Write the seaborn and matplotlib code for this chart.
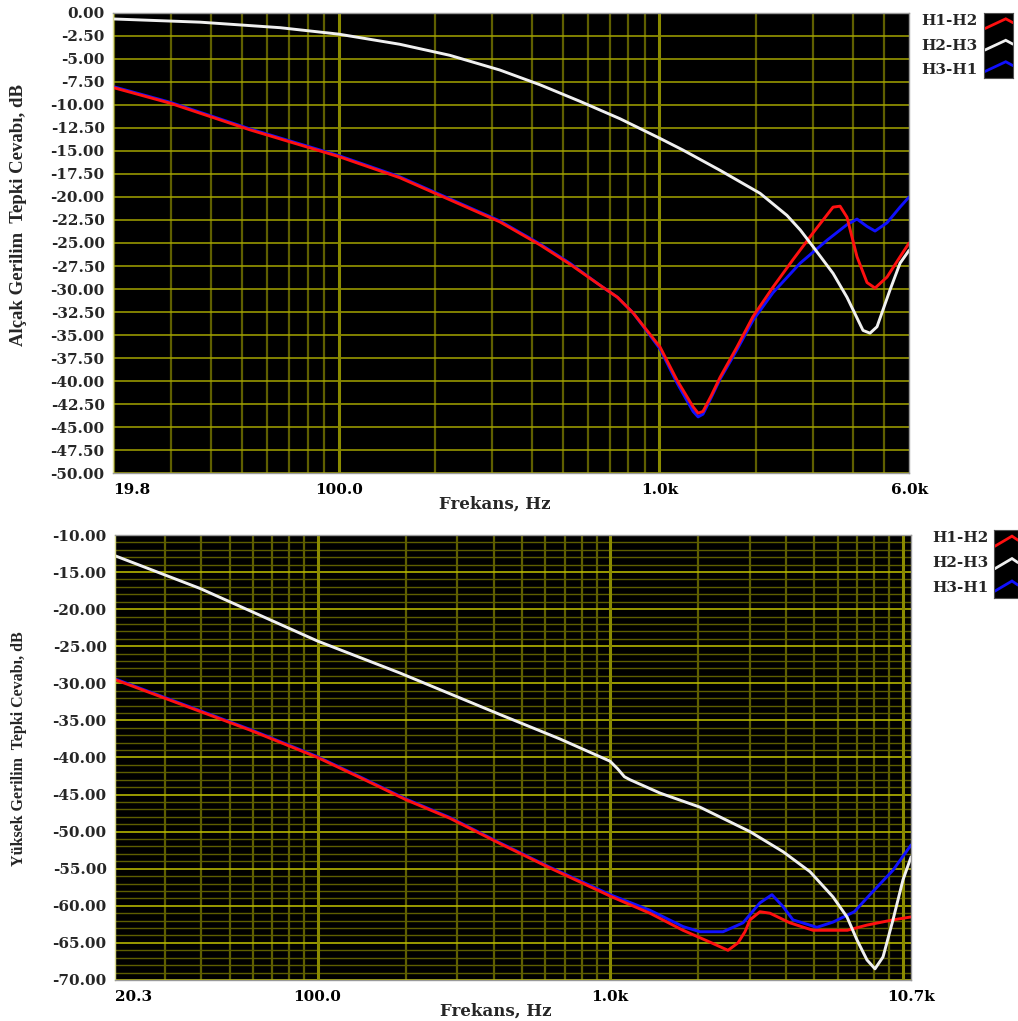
import numpy as np
import pandas as pd
import matplotlib
matplotlib.use("Agg")
import matplotlib.pyplot as plt
from matplotlib.ticker import LogLocator, MultipleLocator, FormatStrFormatter, NullFormatter
import seaborn as sns

# =============================================================================
# data
# =============================================================================
# top plot: low voltage side
top_freq_red = [19.8, 29.8, 52.9, 100, 155, 222, 318, 424, 526, 653, 740, 828, 1004, 1134, 1273,
                1320, 1367, 1450, 1545, 1745, 1957, 2259, 2609, 3012, 3477, 3656, 3843, 4129,
                4437, 4699, 5122, 5623, 6000]
top_red = [-8.1, -9.8, -12.7, -15.6, -17.9, -20.3, -22.7, -25.2, -27.3, -29.6, -30.9, -32.6, -36.3,
           -39.9, -42.8, -43.5, -43.3, -41.6, -39.6, -36.3, -33.0, -29.8, -26.8, -23.9, -21.1,
           -21.0, -22.2, -26.5, -29.3, -29.9, -28.7, -26.5, -25.0]
top_freq_blue = [19.8, 29.8, 52.9, 100, 155, 222, 318, 424, 526, 653, 740, 828, 1004, 1134, 1273,
                 1320, 1367, 1450, 1545, 1745, 1957, 2259, 2744, 3330, 3843, 4129, 4437, 4699,
                 5122, 5623, 6000]
top_blue = [-8.0, -9.7, -12.6, -15.5, -17.8, -20.2, -22.6, -25.1, -27.2, -29.6, -30.9, -32.6, -36.5,
            -40.2, -43.3, -43.9, -43.6, -41.8, -39.8, -36.6, -33.4, -30.4, -27.2, -24.7, -23.0,
            -22.4, -23.2, -23.7, -22.8, -21.1, -20.0]
top_freq_white = [19.8, 37.0, 65.7, 100, 155, 222, 318, 424, 565, 754, 1000, 1184, 1545, 2059,
                  2498, 2750, 3012, 3477, 3843, 4311, 4533, 4767, 5233, 5623, 6000]
top_white = [-0.65, -1.0, -1.6, -2.3, -3.4, -4.6, -6.2, -7.8, -9.6, -11.5, -13.6, -14.9, -17.1,
             -19.6, -22.0, -23.6, -25.4, -28.3, -30.9, -34.5, -34.8, -34.1, -30.1, -27.2, -25.8]
top_xticks = [19.8, 100, 1000, 6000]
top_xticklabels = ["19.8", "100.0", "1.0k", "6.0k"]

# bottom plot: high voltage side
bot_freq_red = [20.3, 58.7, 100, 143, 200.6, 283.6, 420, 623, 1015, 1369, 1776, 2196, 2531,
                2738, 2893, 3009, 3255, 3522, 4124, 4940, 6477, 7559, 9277, 10700]
bot_red = [-29.5, -36.3, -40.0, -42.9, -45.7, -48.2, -51.6, -54.9, -58.8, -61.0, -63.3, -64.9,
           -66.0, -65.0, -63.5, -61.9, -60.8, -61.0, -62.3, -63.3, -63.3, -62.6, -61.9, -61.5]
bot_freq_blue = [20.3, 58.7, 100, 143, 200.6, 283.6, 420, 623, 1015, 1369, 1776, 2030, 2434,
                 2848, 3255, 3578, 3902, 4221, 5099, 5784, 6843, 7739, 9277, 10700]
bot_blue = [-29.4, -36.2, -39.9, -42.8, -45.6, -48.1, -51.5, -54.8, -58.6, -60.6, -62.8, -63.5,
            -63.5, -62.3, -59.6, -58.5, -60.1, -61.9, -62.9, -62.2, -60.8, -58.5, -55.2, -51.8]
bot_freq_white = [20.3, 39.6, 100, 191, 420, 674, 1000, 1060, 1120, 1170, 1482, 2030, 3009,
                  3902, 4827, 5784, 6458, 6987, 7559, 8052, 8577, 9277, 10037, 10700]
bot_white = [-12.8, -17.2, -24.3, -28.6, -34.2, -37.5, -40.5, -41.5, -42.6, -43.0, -44.8, -46.7,
             -50.0, -52.7, -55.4, -58.8, -61.5, -64.6, -67.3, -68.5, -66.9, -61.9, -56.5, -53.4]
bot_xticks = [20.3, 100, 1000, 10700]
bot_xticklabels = ["20.3", "100.0", "1.0k", "10.7k"]

series_names = ["H1-H2", "H2-H3", "H3-H1"]
series_colors = {"H1-H2": "#ff1010", "H2-H3": "#f0f0f0", "H3-H1": "#1010ff"}

# =============================================================================
# style
# =============================================================================
sns.set_style("dark", {"axes.facecolor": "black", "figure.facecolor": "white"})
plt.rcParams['font.family'] = ['DejaVu Serif', 'DejaVu Sans']
plt.rcParams['font.weight'] = 'bold'

fig = plt.figure(figsize=(10.18, 10.21), dpi=100)
ax1 = fig.add_axes([0.111, 0.5367, 0.782, 0.4506])
ax2 = fig.add_axes([0.113, 0.0402, 0.782, 0.4358])


def draw_curves(ax, red, blue, white):
    # blue first so red sits on top where they overlap
    for name, (fx, vals) in [("H3-H1", blue), ("H1-H2", red), ("H2-H3", white)]:
        d = pd.DataFrame({"f": fx, "dB": vals})
        sns.lineplot(data=d, x="f", y="dB", ax=ax, color=series_colors[name],
                     linewidth=2.1, sort=False, estimator=None)


def freq_grid(ax, lo, hi):
    ax.set_xscale("log")
    ax.set_xlim(lo, hi)
    minor = LogLocator(base=10, subs=np.arange(2, 10)).tick_values(lo, hi)
    for f in minor:
        if lo < f < hi:
            ax.axvline(f, color="#6a6a00", lw=1.6, alpha=0.9, zorder=0.5)
    major = LogLocator(base=10, subs=(1.0,)).tick_values(lo, hi)
    for f in major:
        if lo < f < hi:
            ax.axvline(f, color="#8a8a00", lw=2.2, zorder=0.6)
    ax.xaxis.set_minor_formatter(NullFormatter())
    ax.tick_params(axis="x", which="both", length=0, labelsize=11, pad=7, colors="black")


def style_axes(ax, ticks, labels, ylabel, ylab_pos, ylab_size):
    ax.set_xticks(ticks, labels)
    tl = ax.get_xticklabels()
    tl[0].set_horizontalalignment("left")
    ax.yaxis.set_major_formatter(FormatStrFormatter("%.2f"))
    ax.tick_params(axis="y", which="major", length=4, width=1, color="black",
                   labelsize=11, pad=2)
    ax.tick_params(axis="y", which="minor", length=0)
    ax.set_xlabel("Frekans, Hz", fontsize=12, fontweight="bold")
    ax.set_ylabel(ylabel, family="Liberation Serif", fontsize=ylab_size, fontweight="bold")
    ax.yaxis.set_label_coords(*ylab_pos)
    for s in ax.spines.values():
        s.set_color("#9a9a9a")
        s.set_linewidth(1.0)
    ax.spines["left"].set_color("#d8d890")


# ---- top: low voltage
draw_curves(ax1, (top_freq_red, top_red), (top_freq_blue, top_blue), (top_freq_white, top_white))
freq_grid(ax1, 19.8, 6000)
ax1.set_ylim(-50, 0)
ax1.yaxis.set_major_locator(MultipleLocator(2.5))
ax1.grid(axis="y", which="major", color="#a4a400", lw=1.1)
ax1.grid(axis="x", visible=False)
style_axes(ax1, top_xticks, top_xticklabels, "Alçak Gerilim  Tepki Cevabı, dB",
           (-0.108, 0.56), 13.5)
ax1.xaxis.set_label_coords(0.48, -0.05)

# ---- bottom: high voltage
draw_curves(ax2, (bot_freq_red, bot_red), (bot_freq_blue, bot_blue), (bot_freq_white, bot_white))
freq_grid(ax2, 20.3, 10700)
ax2.set_ylim(-70, -10)
ax2.yaxis.set_major_locator(MultipleLocator(5))
ax2.yaxis.set_minor_locator(MultipleLocator(1))
ax2.grid(axis="y", which="major", color="#b4b400", lw=1.2)
ax2.grid(axis="y", which="minor", color="#5e5e00", lw=1.0)
ax2.grid(axis="x", visible=False)
style_axes(ax2, bot_xticks, bot_xticklabels, "Yüksek Gerilim  Tepki Cevabı, dB",
           (-0.11, 0.52), 11.5)
ax2.xaxis.set_label_coords(0.478, -0.05)

for ax in (ax1, ax2):
    ax.set_axisbelow(True)


# ---- legends: names on white, swatches in a small black box
def legend_box(text_x, text_ys, box):
    for name, ty in zip(series_names, text_ys):
        fig.text(text_x, ty, name, ha="right", va="center", fontsize=11, fontweight="bold")
    lax = fig.add_axes(box)
    lax.set_facecolor("black")
    lax.set_xlim(0, 1)
    lax.set_ylim(0, 1)
    lax.set_xticks([])
    lax.set_yticks([])
    for s in lax.spines.values():
        s.set_color("#505050")
        s.set_linewidth(0.8)
    centers = [0.83, 0.5, 0.17]
    for name, c in zip(series_names, centers):
        lax.plot([0.03, 0.75, 1.0], [c - 0.07, c + 0.08, c + 0.02],
                 color=series_colors[name], lw=2.0, solid_joinstyle="miter")


legend_box(0.960, [0.979, 0.955, 0.931], [0.9666, 0.9236, 0.0285, 0.0637])
legend_box(0.971, [0.473, 0.449, 0.424], [0.9764, 0.4143, 0.0236, 0.0666])

fig.savefig("out.png", dpi=100)
